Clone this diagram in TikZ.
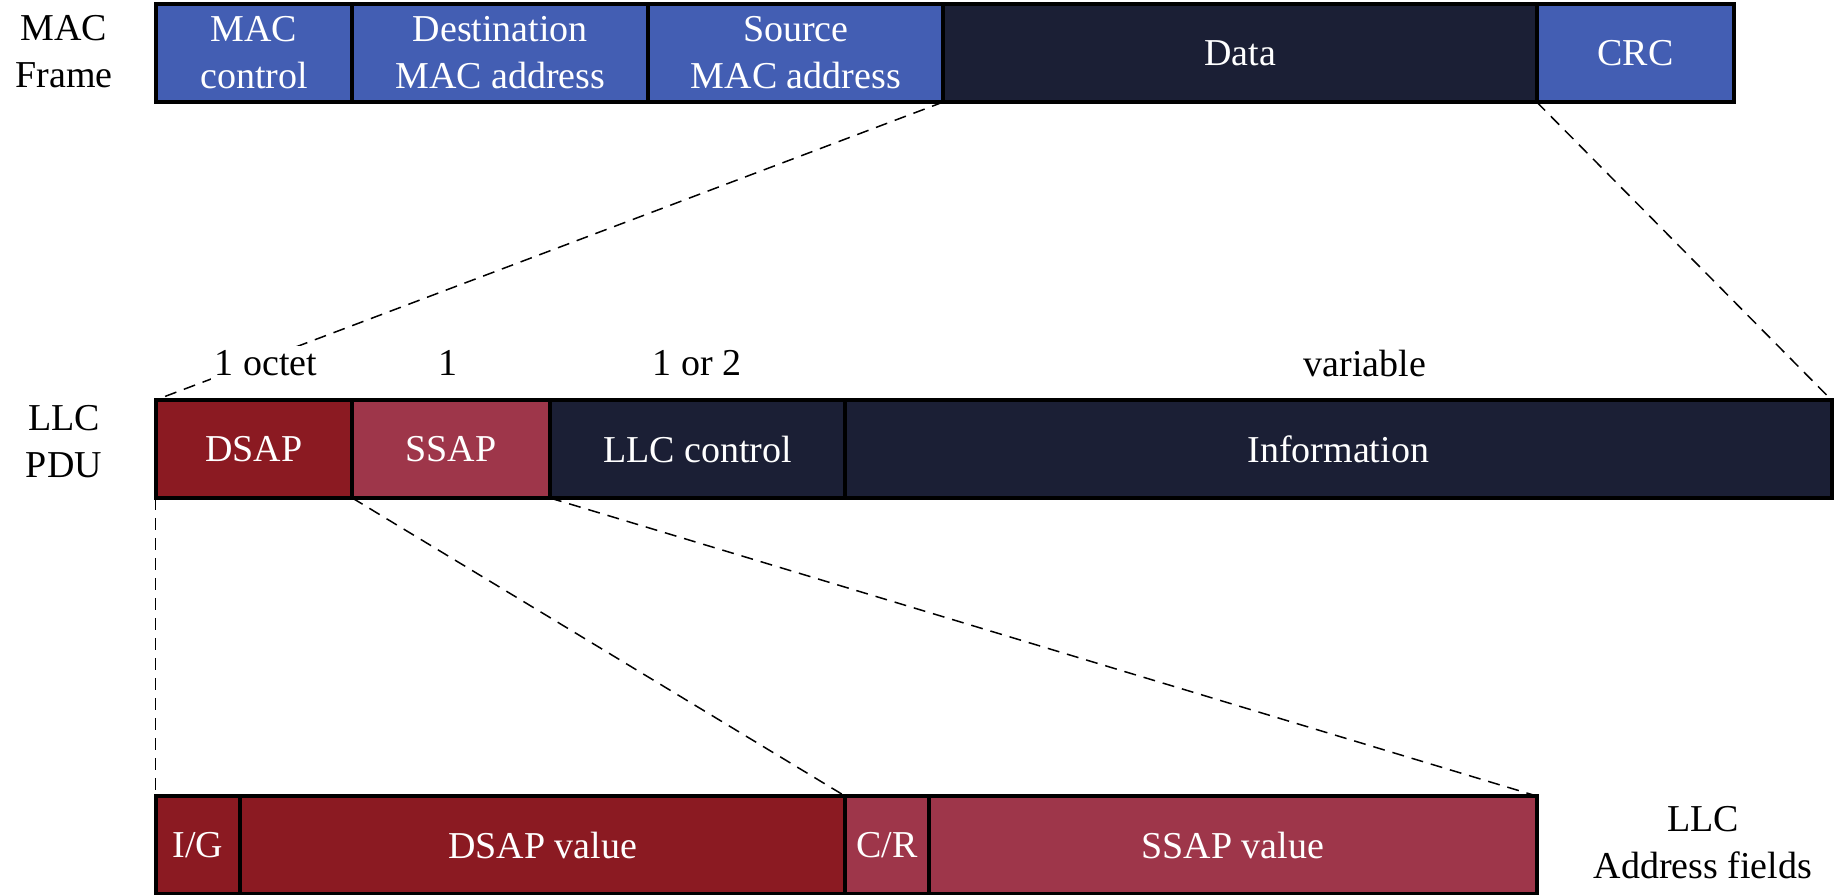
\documentclass[tikz,border=0pt]{standalone}
\usepackage{fontspec}
\setmainfont{Liberation Serif}

\definecolor{macblue}{RGB}{67,94,179}
\definecolor{navy}{RGB}{27,31,53}
\definecolor{dsapred}{RGB}{139,26,34}
\definecolor{ssapred}{RGB}{158,54,74}

\tikzset{
    field/.style={draw=black, line width=2pt, anchor=north west, outer sep=0pt,
        inner sep=0pt, text=white, align=center, minimum height=49pt,
        font=\fontsize{19}{23.5}\selectfont},
    rowlabel/.style={align=center, font=\fontsize{19}{23.5}\selectfont},
    sizelabel/.style={rowlabel, fill=white, inner sep=2pt},
    zoomline/.style={dash pattern=on 6pt off 4pt, line width=0.75pt}
}

\begin{document}
\begin{tikzpicture}[x=0.5pt, y=-0.5pt]
                        \useasboundingbox (0,0) rectangle (1835,894);

                        % MAC frame
                        \foreach \n/\x/\w/\c/\t in {%
                            mc/155.6/196.7/macblue/{MAC\\control},
                            dmac/352.3/296.1/macblue/{Destination\\MAC address},
                            smac/648.4/294.9/macblue/{Source\\MAC address},
                            data/943.3/593.4/navy/{Data},
                            crc/1536.7/197.7/macblue/{CRC}%
                            }{
                            \node[field, fill=\c, minimum width=\w*0.5pt] (\n) at (\x,4) {\t};
                        }

                        % LLC PDU
                        \foreach \n/\x/\w/\c/\t in {%
                            dsap/155.6/196.7/dsapred/{DSAP},
                            ssap/352.3/197.7/ssapred/{SSAP},
                            llcc/550/295/navy/{LLC control},
                            info/845/986.5/navy/{Information}%
                            }{
                            \node[field, fill=\c, minimum width=\w*0.5pt] (\n) at (\x,400) {\t};
                        }

                        % LLC address fields
                        \foreach \n/\x/\w/\c/\t in {%
                            ig/155.6/84.4/dsapred/{I/G},
                            dval/240/605/dsapred/{DSAP value},
                            cr/845/84/ssapred/{C/R},
                            sval/929/607.7/ssapred/{SSAP value}%
                            }{
                            \node[field, fill=\c, minimum width=\w*0.5pt] (\n) at (\x,796) {\t};
                        }

                        \node[rowlabel] (macl) at (64,52) {MAC\\Frame};
                        \node[rowlabel] (pdul) at (64,442) {LLC\\PDU};
                        \node[rowlabel] (addrl) at (1703,843) {LLC\\Address fields};

                        \foreach \u/\v in {%
                            data.south west/dsap.north west,
                            data.south east/info.north east,
                            dsap.south west/ig.north west,
                            dsap.south east/cr.north west,
                            ssap.south east/sval.north east%
                            }{
                            \draw[zoomline] (\u) -- (\v);
                        }

                        % octet counts, on top of the dashed lines
                        \foreach \n/\x/\t in {%
                            s1/266/{1 octet},
                            s2/448/{1},
                            s3/697/{1 or 2},
                            s4/1365/{variable}%
                            }{
                            \node[sizelabel] (\n) at (\x,363) {\t};
                        }

                    \end{tikzpicture}
\end{document}
